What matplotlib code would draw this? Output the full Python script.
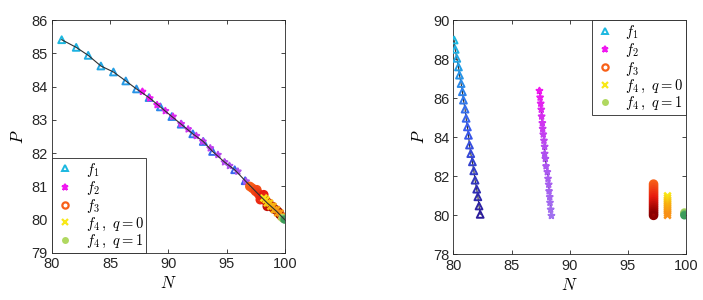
import matplotlib.pyplot as plt
from matplotlib.colors import LinearSegmentedColormap
from matplotlib.lines import Line2D
import numpy as np

plt.rcParams["font.family"] = ["Liberation Sans", "DejaVu Sans"]
plt.rcParams["mathtext.fontset"] = "cm"

# ---- left panel data ----
L_F1_N = [80.83, 82.08, 83.11, 84.2, 85.28, 86.34, 87.26, 88.34, 89.31, 90.3,
          91.1, 92.1, 93.0, 93.8, 95.7, 96.6]
L_F1_P = [85.41, 85.18, 84.94, 84.62, 84.44, 84.17, 83.93, 83.67, 83.39, 83.1,
          82.87, 82.58, 82.35, 82.05, 81.5, 81.17]
L_F2_N = [87.77, 88.4, 89.03, 89.74, 90.4, 91.1, 91.7, 92.4, 92.97, 93.6,
          94.26, 94.83, 95.25, 95.97, 96.68]
L_F2_P = [83.85, 83.65, 83.45, 83.27, 83.1, 82.88, 82.72, 82.52, 82.35, 82.15,
          81.95, 81.73, 81.62, 81.45, 81.15]
L_F3_N = [97.0, 97.2, 97.4, 97.6, 97.5, 97.7, 97.8, 98.0, 97.9, 98.1, 98.2, 98.3,
          98.4, 98.6, 98.5, 98.7, 98.9, 99.0, 99.2, 99.4, 99.6]
L_F3_P = [81.0, 80.95, 80.9, 80.9, 80.85, 80.8, 80.75, 80.7, 80.6, 80.65, 80.75,
          80.6, 80.55, 80.5, 80.4, 80.45, 80.4, 80.35, 80.3, 80.25, 80.15]
L_F4A_N = [98.2, 98.4, 98.5, 98.7, 98.8, 99.0, 99.1, 99.3, 99.4, 99.6, 99.7]
L_F4A_P = [80.65, 80.6, 80.5, 80.5, 80.4, 80.4, 80.3, 80.3, 80.2, 80.2, 80.1]
L_F4B_N = [99.8, 99.9, 100.0]
L_F4B_P = [80.05, 80.02, 80.0]
L_CURVE_N = [80.83, 82.08, 83.11, 84.2, 85.28, 86.34, 87.26, 88.34, 89.31, 90.3,
             91.1, 92.1, 93.0, 93.8, 94.83, 95.7, 96.6, 97.5, 98.5, 99.3, 100.0]
L_CURVE_P = [85.41, 85.18, 84.94, 84.62, 84.44, 84.17, 83.93, 83.67, 83.39, 83.1,
             82.87, 82.58, 82.35, 82.05, 81.73, 81.5, 81.17, 80.85, 80.5, 80.25, 80.0]

# ---- right panel data ----
R_F1_N = [80.06, 80.15, 80.29, 80.43, 80.52, 80.66, 80.77, 80.86, 81.0, 81.09, 81.2,
          81.29, 81.38, 81.49, 81.63, 81.75, 81.86, 82.0, 82.1, 82.2, 82.3]
R_F1_P = [88.98, 88.5, 88.04, 87.6, 87.18, 86.75, 86.33, 85.9, 85.44, 84.97, 84.53,
          84.1, 83.6, 83.16, 82.74, 82.28, 81.8, 81.34, 80.95, 80.48, 80.05]
R_F2_N = [87.39, 87.45, 87.5, 87.55, 87.58, 87.64, 87.67, 87.72, 87.78, 87.84, 87.84,
          87.9, 87.96, 88.07, 88.13, 88.19, 88.22, 88.28, 88.3, 88.36, 88.42]
R_F2_P = [86.38, 86.04, 85.73, 85.42, 85.07, 84.73, 84.44, 84.15, 83.83, 83.52, 83.16,
          82.9, 82.52, 82.22, 81.88, 81.58, 81.24, 80.94, 80.65, 80.3, 79.98]
R_F3_N = [97.2] * 17
R_F3_P = [81.6, 81.5, 81.4, 81.3, 81.2, 81.1, 81.0, 80.9, 80.8, 80.7, 80.6, 80.5,
          80.4, 80.3, 80.2, 80.1, 80.0]
R_F4A_N = [98.4] * 11
R_F4A_P = [81.0, 80.9, 80.8, 80.7, 80.6, 80.5, 80.4, 80.3, 80.2, 80.1, 80.0]
R_F4B_N = [99.85, 99.85, 99.85, 99.85]
R_F4B_P = [80.15, 80.1, 80.05, 80.0]

CM_F1 = LinearSegmentedColormap.from_list("f1", ["#1cb8e0", "#3a5cf0", "#2c1c9c"])
CM_F2 = LinearSegmentedColormap.from_list("f2", ["#f018f0", "#b050f0", "#a070f0"])
CM_F3 = LinearSegmentedColormap.from_list("f3", ["#f86018", "#e81c10", "#8c0000"])
CM_F4A = LinearSegmentedColormap.from_list("f4a", ["#f8e818", "#f8b010", "#f89018"])
CM_F4B = LinearSegmentedColormap.from_list("f4b", ["#b0d860", "#80c060", "#3c9c5c"])

AX_COL = "#262626"


def colours(cmap, n, stop=1.0):
    return [cmap(v) for v in np.linspace(0, stop, n)]


def draw(ax, f1, f2, f3, f4a, f4b, f1_stop, f2_stop):
    ax.scatter(*f1, marker="^", s=24, facecolors="none",
               edgecolors=colours(CM_F1, len(f1[0]), f1_stop), linewidths=1.4, zorder=3)
    ax.scatter(*f2, marker="*", s=20, facecolors="none",
               edgecolors=colours(CM_F2, len(f2[0]), f2_stop), linewidths=1.4, zorder=3)
    ax.scatter(*f3, marker="o", s=22, facecolors="none",
               edgecolors=colours(CM_F3, len(f3[0])), linewidths=2.2, zorder=3)
    ax.scatter(*f4a, marker="x", s=22, color=colours(CM_F4A, len(f4a[0])),
               linewidths=1.8, zorder=4)
    ax.scatter(*f4b, marker="o", s=36, color=colours(CM_F4B, len(f4b[0])),
               linewidths=0, zorder=4)


def style(ax, xlim, ylim, yticks):
    ax.set_xlim(*xlim)
    ax.set_ylim(*ylim)
    ax.set_xticks([80, 85, 90, 95, 100])
    ax.set_yticks(yticks)
    ax.tick_params(direction="in", top=True, right=True, length=3, width=0.6,
                   labelsize=10.5, colors=AX_COL, pad=3)
    for sp in ax.spines.values():
        sp.set_color(AX_COL)
        sp.set_linewidth(0.6)
    ax.set_xlabel(r"$N$", fontsize=12, labelpad=3)
    ax.set_ylabel(r"$P$", fontsize=12, labelpad=4)


def legend(ax, loc):
    handles = [
        Line2D([], [], ls="none", marker="^", ms=4.5, mfc="none", mec="#1cb8e0", mew=1.4),
        Line2D([], [], ls="none", marker="*", ms=4.5, mfc="none", mec="#f018f0", mew=1.4),
        Line2D([], [], ls="none", marker="o", ms=4.5, mfc="none", mec="#f86018", mew=1.6),
        Line2D([], [], ls="none", marker="x", ms=4, color="#f8e818", mew=1.6),
        Line2D([], [], ls="none", marker="o", ms=5, mfc="#b0d860", mec="none"),
    ]
    labels = [r"$f_1$", r"$f_2$", r"$f_3$", r"$f_4\,,\ q=0$", r"$f_4\,,\ q=1$"]
    leg = ax.legend(handles, labels, loc=loc, borderaxespad=0, fancybox=False,
                    framealpha=1, edgecolor=AX_COL, fontsize=10.5, handlelength=1.4,
                    handletextpad=0.7, labelspacing=0.02, borderpad=0.2)
    leg.get_frame().set_linewidth(0.6)


fig = plt.figure(figsize=(7.03, 3.0), dpi=100)
ax1 = fig.add_axes([0.074, 0.157, 0.331, 0.776])
ax2 = fig.add_axes([0.645, 0.152, 0.331, 0.781])

ax1.plot(L_CURVE_N, L_CURVE_P, color="#303030", lw=0.8, zorder=5)
draw(ax1, (L_F1_N, L_F1_P), (L_F2_N, L_F2_P), (L_F3_N, L_F3_P),
     (L_F4A_N, L_F4A_P), (L_F4B_N, L_F4B_P), 0.5, 0.6)
style(ax1, (80, 100), (79, 86), [79, 80, 81, 82, 83, 84, 85, 86])
legend(ax1, "lower left")

ax2.plot(R_F1_N, R_F1_P, color="#303030", lw=0.8, zorder=2)
ax2.plot(R_F2_N, R_F2_P, color="#303030", lw=0.8, zorder=2)
draw(ax2, (R_F1_N, R_F1_P), (R_F2_N, R_F2_P), (R_F3_N, R_F3_P),
     (R_F4A_N, R_F4A_P), (R_F4B_N, R_F4B_P), 1.0, 1.0)
style(ax2, (80, 100), (78, 90), [78, 80, 82, 84, 86, 88, 90])
legend(ax2, "upper right")

fig.savefig("out.png", dpi=100)
